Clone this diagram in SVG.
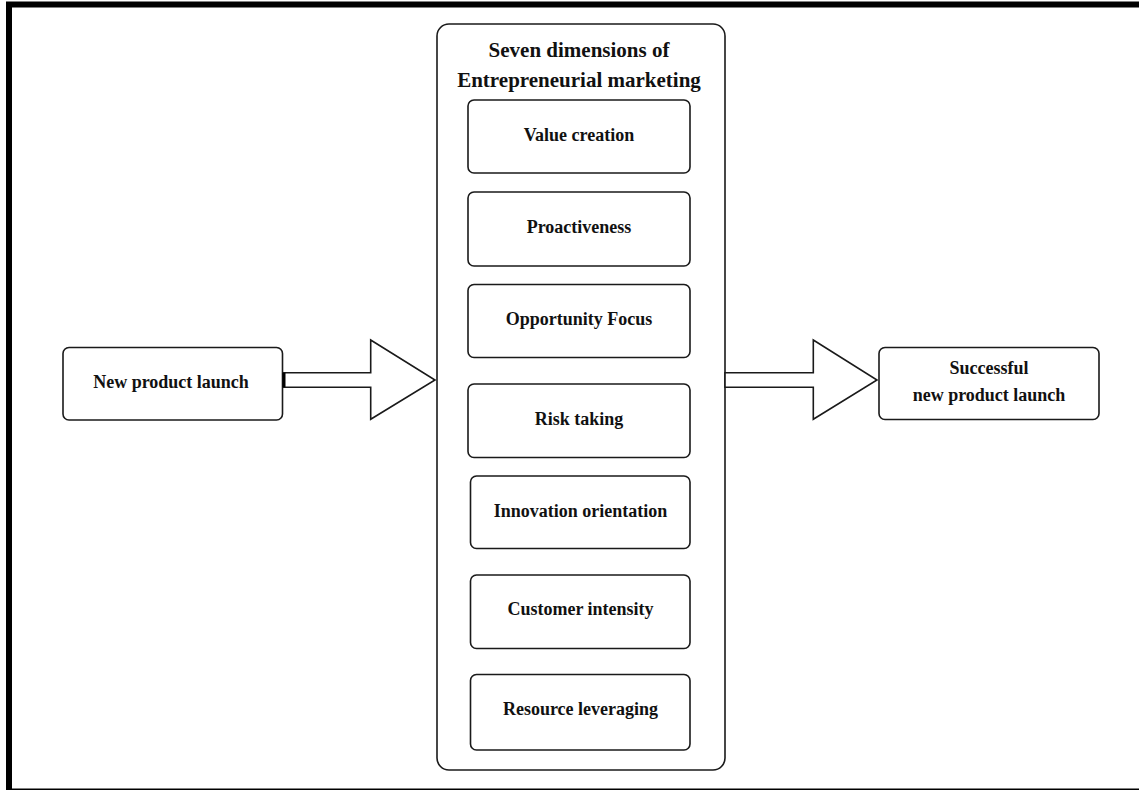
<svg xmlns="http://www.w3.org/2000/svg" width="1139" height="790" viewBox="0 0 1139 790">
<style>
.box{fill:#fff;stroke:#1a1a1a;stroke-width:1.6}
.arr{fill:#fff;stroke:#1a1a1a;stroke-width:1.6;stroke-linejoin:miter}
text{font-family:"Liberation Serif","Times New Roman",serif;font-weight:bold;fill:#111;text-anchor:middle}
.t{font-size:18px}
.h{font-size:21px}
</style>
<rect x="0" y="0" width="1139" height="790" fill="#fff"/>
<rect x="9" y="4.5" width="1140" height="787" fill="none" stroke="#000" stroke-width="6"/>
<g id="container">
<rect class="box" x="437" y="24" width="288" height="746" rx="12"/>
<text class="h" x="579" y="57">Seven dimensions of</text>
<text class="h" x="579" y="87">Entrepreneurial marketing</text>
</g>
<g id="value-creation"><rect class="box" x="468" y="100" width="222" height="73" rx="6"/><text class="t" x="579" y="141">Value creation</text></g>
<g id="proactiveness"><rect class="box" x="468" y="192" width="222" height="74" rx="6"/><text class="t" x="579" y="233">Proactiveness</text></g>
<g id="opportunity-focus"><rect class="box" x="468" y="284.5" width="222" height="73" rx="6"/><text class="t" x="579" y="325">Opportunity Focus</text></g>
<g id="risk-taking"><rect class="box" x="468" y="384" width="222" height="73.5" rx="6"/><text class="t" x="579" y="424.5">Risk taking</text></g>
<g id="innovation-orientation"><rect class="box" x="470.5" y="476" width="219.5" height="72.5" rx="6"/><text class="t" x="580.5" y="517">Innovation orientation</text></g>
<g id="customer-intensity"><rect class="box" x="470.5" y="575" width="219.5" height="73.5" rx="6"/><text class="t" x="580.5" y="615">Customer intensity</text></g>
<g id="resource-leveraging"><rect class="box" x="470.5" y="674.5" width="219.5" height="75.5" rx="6"/><text class="t" x="580.5" y="715">Resource leveraging</text></g>
<g id="new-product-launch"><rect class="box" x="63" y="347.5" width="219.5" height="72.5" rx="6"/><text class="t" x="171" y="387.5">New product launch</text></g>
<g id="successful-launch"><rect class="box" x="879" y="347.5" width="220" height="72" rx="6"/><text class="t" x="989" y="374">Successful</text><text class="t" x="989" y="401">new product launch</text></g>
<g id="connectors">
<polygon class="arr" points="283.5,372.7 370.7,372.7 370.7,340 435,380 370.7,419.3 370.7,387.3 283.5,387.3"/>
<line x1="284" y1="372.7" x2="284" y2="387.3" stroke="#000" stroke-width="3"/>
<polygon class="arr" points="725,372.7 813.3,372.7 813.3,340 877,380 813.3,419.3 813.3,387.3 725,387.3"/>
</g>
</svg>
